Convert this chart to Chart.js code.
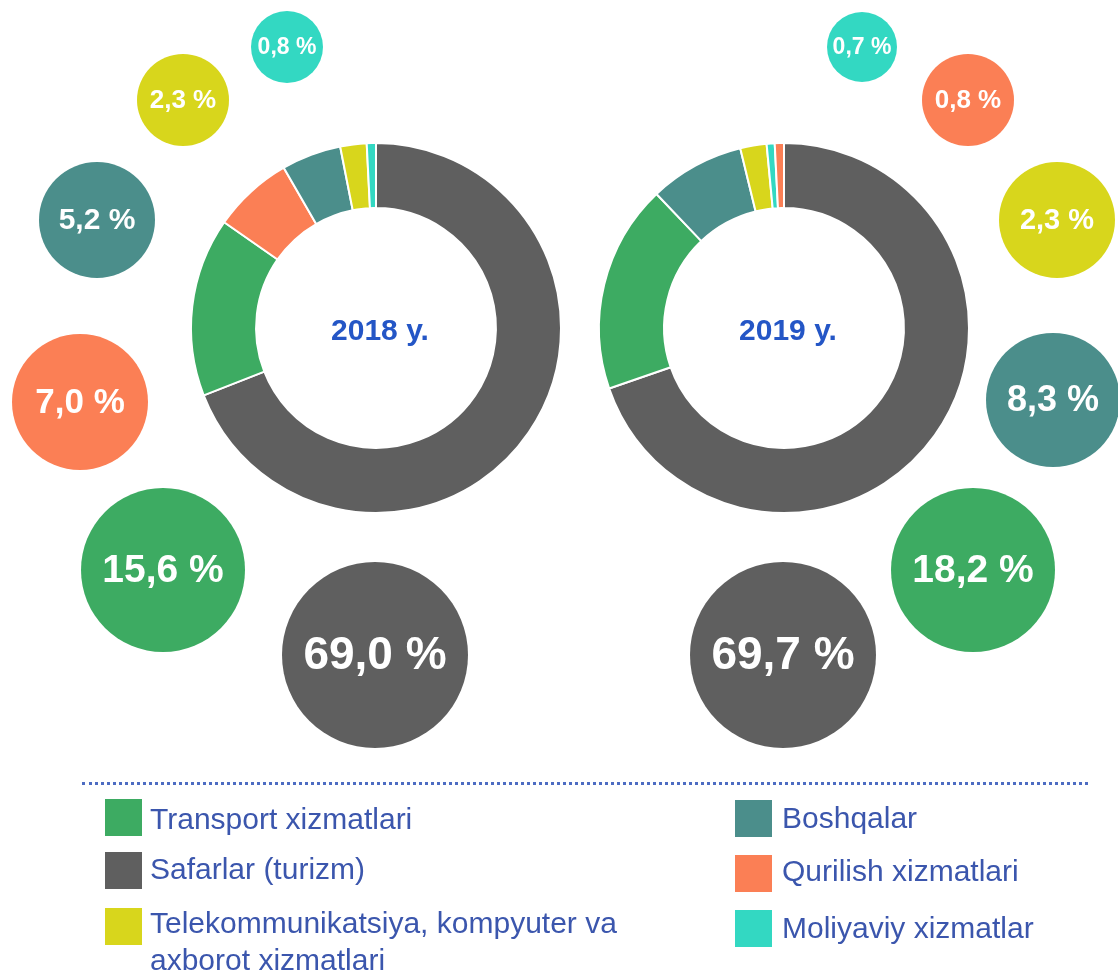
<!DOCTYPE html>
<html>
<head>
<meta charset="utf-8">
<script src="https://cdn.jsdelivr.net/npm/chart.js@4.4.1/dist/chart.umd.min.js"></script>
<style>
html,body{margin:0;padding:0;background:#fff;width:1118px;height:974px;overflow:hidden;font-family:"Liberation Sans",Arial,sans-serif;}
#stage{position:relative;width:1118px;height:974px;}
canvas{position:absolute;}
.dots{position:absolute;height:0;border-top:3px dotted #4d6cc2;}
.sw{position:absolute;width:37px;height:37px;}
.lt{position:absolute;font-size:30px;line-height:37px;color:#3b56ad;white-space:nowrap;}
</style>
</head>
<body>
<div id="stage">
  <canvas id="bubbles" width="1118" height="974" style="left:0;top:0"></canvas>
  <canvas id="d2018" width="400" height="400" style="left:176px;top:128px"></canvas>
  <canvas id="d2019" width="400" height="400" style="left:584px;top:128px"></canvas>
  <div id="legend"></div>
</div>
<script>
// ---- data ----
const categories = [
  'Transport xizmatlari',
  'Safarlar (turizm)',
  'Telekommunikatsiya, kompyuter va axborot xizmatlari',
  'Boshqalar',
  'Qurilish xizmatlari',
  'Moliyaviy xizmatlar'
];
const years = ['2018 y.', '2019 y.'];
const labels2018 = ['Safarlar (turizm)', 'Transport xizmatlari', 'Qurilish xizmatlari', 'Boshqalar',
  'Telekommunikatsiya, kompyuter va axborot xizmatlari', 'Moliyaviy xizmatlar'];
const values2018 = [69.0, 15.6, 7.0, 5.2, 2.3, 0.8];
const labels2019 = ['Safarlar (turizm)', 'Transport xizmatlari', 'Boshqalar',
  'Telekommunikatsiya, kompyuter va axborot xizmatlari', 'Moliyaviy xizmatlar', 'Qurilish xizmatlari'];
const values2019 = [69.7, 18.2, 8.3, 2.3, 0.7, 0.8];

// ---- styles / layout ----
const colorOf = {
  'Transport xizmatlari': '#3dab62',
  'Safarlar (turizm)': '#5f5f5f',
  'Telekommunikatsiya, kompyuter va axborot xizmatlari': '#d8d61c',
  'Boshqalar': '#4b8e8b',
  'Qurilish xizmatlari': '#fb7f55',
  'Moliyaviy xizmatlar': '#33d8c2'
};
// bubble placement (page pixels): x, y, radius, font size -- same order as the labels of each year
const bubbleLayout2018 = [[375,655,93,46],[163,570,82,39],[80,402,68,35],[97,220,58,30],[183,100,46,26],[287,47,36,23]];
const bubbleLayout2019 = [[783,655,93,46],[973,570,82,39],[1053,400,67,36],[1057,220,58,29],[862,47,35,23],[968,100,46,26]];

const fmt = v => v.toFixed(1).replace('.', ',') + ' %';

// ---- doughnuts ----
const centerText = {
  id: 'centerText',
  afterDraw(chart, args, opts) {
    const ctx = chart.ctx;
    const arc = chart.getDatasetMeta(0).data[0];
    ctx.save();
    ctx.font = 'bold 30px "Liberation Sans", Arial, sans-serif';
    ctx.fillStyle = '#2456c6';
    ctx.textAlign = 'center';
    ctx.textBaseline = 'middle';
    ctx.fillText(opts.text, arc.x + 4, arc.y + 4);
    ctx.restore();
  }
};
function donut(id, labels, values, title) {
  return new Chart(document.getElementById(id), {
    type: 'doughnut',
    data: {
      labels: labels,
      datasets: [{
        data: values,
        backgroundColor: labels.map(l => colorOf[l]),
        borderColor: '#ffffff',
        borderWidth: 2,
        hoverOffset: 0
      }]
    },
    options: {
      responsive: false,
      animation: false,
      events: [],
      radius: 185,
      cutout: 129,
      rotation: 0,
      layout: { padding: 0 },
      plugins: { legend: { display: false }, tooltip: { enabled: false }, centerText: { text: title } }
    },
    plugins: [centerText]
  });
}
donut('d2018', labels2018, values2018, years[0]);
donut('d2019', labels2019, values2019, years[1]);

// ---- bubbles with percentage labels ----
const bubbleText = {
  id: 'bubbleText',
  afterDatasetsDraw(chart) {
    const ctx = chart.ctx;
    chart.data.datasets.forEach((ds, di) => {
      const meta = chart.getDatasetMeta(di);
      meta.data.forEach((el, i) => {
        ctx.save();
        ctx.font = 'bold ' + ds.fontSizes[i] + 'px "Liberation Sans", Arial, sans-serif';
        ctx.fillStyle = '#ffffff';
        ctx.textAlign = 'center';
        ctx.textBaseline = 'middle';
        ctx.fillText(fmt(ds.values[i]), el.x, el.y + 1);
        ctx.restore();
      });
    });
  }
};
function bubbleDataset(labels, values, layout) {
  return {
    data: values.map((v, i) => ({ x: layout[i][0], y: layout[i][1], r: layout[i][2] })),
    values: values,
    fontSizes: layout.map(l => l[3]),
    backgroundColor: labels.map(l => colorOf[l]),
    borderWidth: 0,
    clip: false
  };
}
new Chart(document.getElementById('bubbles'), {
  type: 'bubble',
  data: {
    datasets: [
      bubbleDataset(labels2018, values2018, bubbleLayout2018),
      bubbleDataset(labels2019, values2019, bubbleLayout2019)
    ]
  },
  options: {
    responsive: false,
    animation: false,
    events: [],
    layout: { padding: 0, autoPadding: false },
    scales: {
      x: { type: 'linear', min: 0, max: 1118, display: false },
      y: { type: 'linear', min: 0, max: 974, reverse: true, display: false }
    },
    plugins: { legend: { display: false }, tooltip: { enabled: false } }
  },
  plugins: [bubbleText]
});

// ---- legend (HTML) ----
const legendItems = [
  { cat: categories[0], sx: 105, sy: 799, tx: 150, ty: 800, text: 'Transport xizmatlari' },
  { cat: categories[1], sx: 105, sy: 852, tx: 150, ty: 850, text: 'Safarlar (turizm)' },
  { cat: categories[2], sx: 105, sy: 908, tx: 150, ty: 904, text: 'Telekommunikatsiya, kompyuter va<br>axborot xizmatlari' },
  { cat: categories[3], sx: 735, sy: 800, tx: 782, ty: 799, text: 'Boshqalar' },
  { cat: categories[4], sx: 735, sy: 855, tx: 782, ty: 852, text: 'Qurilish xizmatlari' },
  { cat: categories[5], sx: 735, sy: 910, tx: 782, ty: 909, text: 'Moliyaviy xizmatlar' }
];
const lg = document.getElementById('legend');
let html = '<div class="dots" style="left:82px;top:782px;width:1006px"></div>';
legendItems.forEach(it => {
  html += '<div class="sw" style="left:' + it.sx + 'px;top:' + it.sy + 'px;background:' + colorOf[it.cat] + '"></div>';
  html += '<div class="lt" style="left:' + it.tx + 'px;top:' + it.ty + 'px">' + it.text + '</div>';
});
lg.innerHTML = html;
</script>
</body>
</html>
